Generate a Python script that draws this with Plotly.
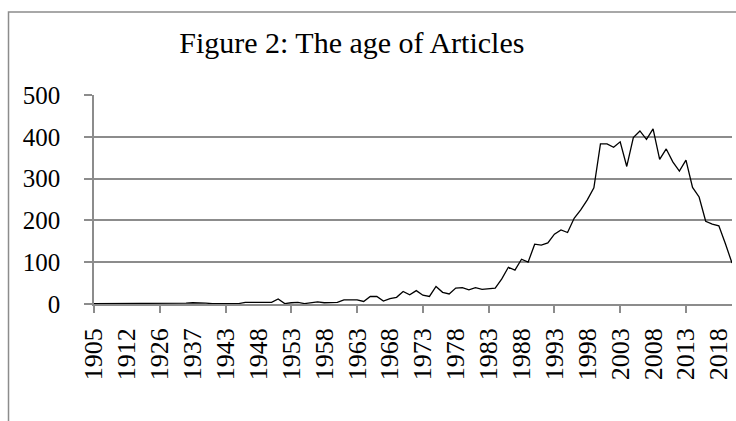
import plotly.graph_objects as go

years = [1905, 1906, 1908, 1910, 1911, 1912, 1914, 1918, 1920, 1924,
         1926, 1928, 1930, 1933, 1935, 1937, 1938, 1939, 1940, 1942,
         1943, 1944, 1945, 1946, 1947] + list(range(1948, 2021))

articles = [1, 1, 1, 1, 1, 1, 1, 1, 1, 1,
            2, 1, 1, 1, 2, 3, 3, 2, 1, 1,
            1, 1, 1, 4, 4, 4, 3, 4, 12, 1,
            3, 4, 1, 3, 5, 3, 4, 4, 10, 10,
            10, 6, 18, 18, 7, 13, 16, 30, 22, 32,
            21, 18, 42, 28, 24, 38, 39, 34, 39, 35,
            36, 38, 60, 88, 81, 107, 100, 143, 141, 146,
            167, 177, 171, 205, 225, 249, 278, 383, 383, 375,
            388, 329, 398, 414, 394, 419, 346, 371, 340, 318,
            344, 279, 256, 198, 191, 187, 144, 98]

title_text = "Figure 2: The age of Articles"
y_ticks = [0, 100, 200, 300, 400, 500]

idx = list(range(len(years)))
label_pos = idx[::5]
label_text = [str(years[i]) for i in label_pos]

GRAY = "#8c8c8c"
FONT = "Liberation Serif, Times New Roman, serif"

fig = go.Figure()
fig.add_trace(go.Scatter(
    x=idx, y=articles, mode="lines",
    line=dict(color="black", width=1.3),
    hoverinfo="skip", showlegend=False,
))

fig.update_layout(
    width=736, height=421,
    margin=dict(l=94, r=4, t=95, b=117),
    paper_bgcolor="white", plot_bgcolor="white",
    font=dict(family=FONT, color="black"),
    title=dict(text=title_text, x=0.478, xanchor="center",
               y=0.9, yanchor="middle",
               font=dict(size=30, family=FONT, color="black")),
    xaxis=dict(
        range=[0, len(years) - 1],
        tickmode="array", tickvals=label_pos, ticktext=label_text,
        tickangle=-90, tickfont=dict(size=26, family=FONT),
        ticks="outside", ticklen=7, tickcolor="rgba(0,0,0,0)",
        ticklabelstandoff=5,
        showgrid=False, zeroline=False,
        showline=True, linecolor=GRAY, linewidth=1.5,
        minor=dict(tickmode="linear", tick0=0, dtick=10,
                   ticks="outside", ticklen=7, tickcolor=GRAY, tickwidth=1.5,
                   showgrid=False),
    ),
    yaxis=dict(
        range=[0, 500],
        tickmode="array", tickvals=y_ticks,
        tickfont=dict(size=25, family=FONT),
        ticks="outside", ticklen=8, tickcolor=GRAY, tickwidth=1.5,
        ticklabelstandoff=19,
        showgrid=True, gridcolor=GRAY, gridwidth=1.5,
        zeroline=False,
        showline=True, linecolor=GRAY, linewidth=1.5,
    ),
    shapes=[dict(type="rect", xref="paper", yref="paper",
                 x0=-0.134, x1=1.2, y0=-0.8, y1=1.397,
                 line=dict(color=GRAY, width=1.5), fillcolor="rgba(0,0,0,0)",
                 layer="below")],
)

fig.write_html(
    "out.html",
    config={"displayModeBar": False},
    post_script="document.body.style.margin='0';document.body.style.overflow='hidden';",
)
